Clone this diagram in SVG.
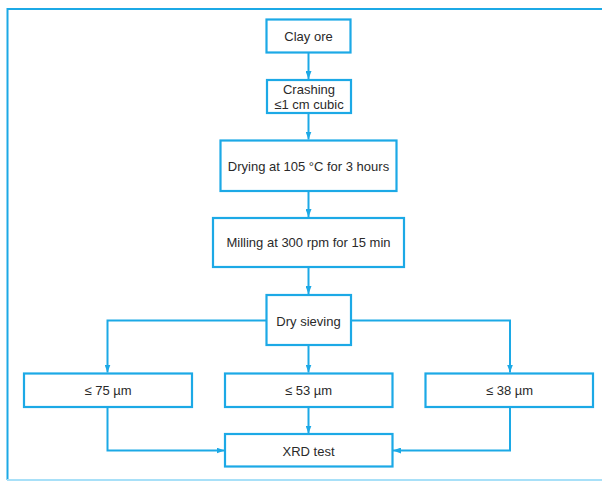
<svg xmlns="http://www.w3.org/2000/svg" width="602" height="481" viewBox="0 0 602 481">
<defs>
<style>
.box{fill:#fff;stroke:#1ca9e6;stroke-width:2.2}
.ln{fill:none;stroke:#1ca9e6;stroke-width:2}
text{font-family:"Liberation Sans",Arial,sans-serif;font-size:13px;fill:#2a2a2a;text-anchor:middle;dominant-baseline:central}
</style>
<marker id="ah" markerWidth="8" markerHeight="6" refX="8" refY="3" orient="auto" markerUnits="userSpaceOnUse">
<path d="M0,0 L8,3 L0,6 Z" fill="#1ca9e6"/>
</marker>
</defs>
<rect width="602" height="481" fill="#fff"/>
<path d="M602,9 H7.5 V480" fill="none" stroke="#1ca9e6" stroke-width="2"/>
<line x1="7" y1="480" x2="602" y2="480" stroke="#a8e0f8" stroke-width="2"/>
<g id="connectors">
<path class="ln" d="M308.5,53 V79" marker-end="url(#ah)"/>
<path class="ln" d="M308.5,113 V139.5" marker-end="url(#ah)"/>
<path class="ln" d="M308.5,191 V217" marker-end="url(#ah)"/>
<path class="ln" d="M308.5,267 V294" marker-end="url(#ah)"/>
<path class="ln" d="M267,320.5 H107.5 V372.5" marker-end="url(#ah)"/>
<path class="ln" d="M351,320.5 H510 V372.5" marker-end="url(#ah)"/>
<path class="ln" d="M308.5,345 V372.5" marker-end="url(#ah)"/>
<path class="ln" d="M107.5,407 V450.5 H224.5" marker-end="url(#ah)"/>
<path class="ln" d="M308.5,407 V433.5" marker-end="url(#ah)"/>
<path class="ln" d="M510,407 V450.5 H393" marker-end="url(#ah)"/>
</g>
<g id="clay-ore"><rect class="box" x="266.5" y="19.5" width="84" height="33"/><text x="308.5" y="36">Clay ore</text></g>
<g id="crashing"><rect class="box" x="267" y="80" width="84" height="33"/><text x="309" y="89">Crashing</text><text x="309" y="104">≤1 cm cubic</text></g>
<g id="drying"><rect class="box" x="220.5" y="140.5" width="176" height="50.5"/><text x="308.5" y="166">Drying at 105 °C for 3 hours</text></g>
<g id="milling"><rect class="box" x="213" y="218" width="191" height="49"/><text x="308.5" y="242.5">Milling at 300 rpm for 15 min</text></g>
<g id="dry-sieving"><rect class="box" x="266.5" y="295" width="84.5" height="50"/><text x="308.5" y="321">Dry sieving</text></g>
<g id="s75"><rect class="box" x="24" y="373.5" width="168" height="33.5"/><text x="108" y="390">≤ 75 µm</text></g>
<g id="s53"><rect class="box" x="225" y="373.5" width="167.5" height="33.5"/><text x="308.5" y="390">≤ 53 µm</text></g>
<g id="s38"><rect class="box" x="425.5" y="373.5" width="167.5" height="33.5"/><text x="509.5" y="390">≤ 38 µm</text></g>
<g id="xrd"><rect class="box" x="225" y="434" width="167.5" height="32.5"/><text x="308.5" y="451">XRD test</text></g>
</svg>
